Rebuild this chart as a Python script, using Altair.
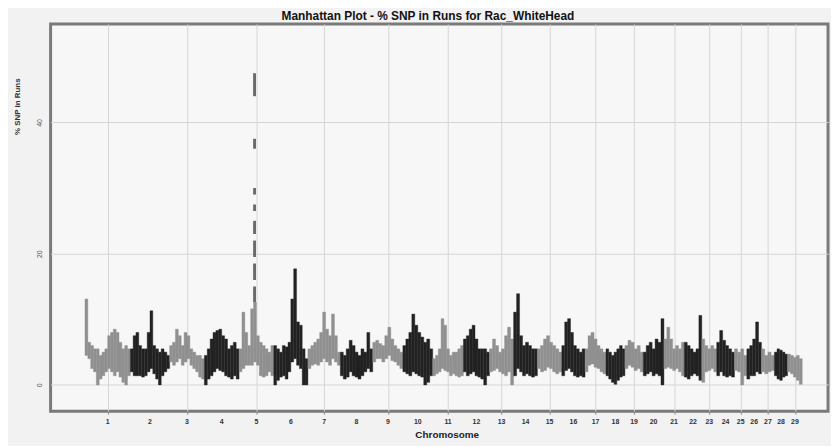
import altair as alt
import pandas as pd

# Bovine chromosome lengths (Mb) - x axis is cumulative genomic position
chrom_len = [158, 137, 121, 121, 121, 119, 113, 113, 105, 104, 107, 91, 84, 83, 85,
             81, 73, 66, 64, 72, 71, 61, 52, 62, 43, 51, 45, 46, 51]

# Upper / lower envelope of % SNP in runs along each chromosome
hi = {
    1: [13.1, 6.5, 6.0, 5.5, 5.5, 4.5, 5.0, 5.5, 7.5, 8.0, 8.5, 8.0, 6.5, 5.5, 6.0, 5.5],
    2: [5.5, 7.5, 8.0, 6.0, 5.5, 5.5, 8.0, 11.3, 6.0, 5.5, 5.0, 5.5, 5.0, 4.5],
    3: [6.0, 6.5, 8.5, 7.5, 6.0, 8.0, 7.5, 5.5, 5.0, 4.5, 4.5, 4.0],
    4: [4.5, 5.5, 7.0, 8.0, 8.3, 8.5, 7.5, 7.0, 5.5, 6.0, 6.5, 5.5],
    5: [5.5, 11.1, 8.0, 6.0, 11.6, 12.6, 7.5, 6.5, 6.0, 5.5, 5.0, 6.0],
    6: [6.0, 5.5, 5.0, 6.0, 5.8, 6.5, 13.1, 17.7, 9.6, 9.1, 5.5, 4.0],
    7: [5.5, 6.0, 6.5, 7.0, 8.0, 11.1, 8.5, 7.5, 10.8, 7.5, 5.0],
    8: [5.0, 4.5, 5.5, 6.8, 6.0, 5.0, 4.5, 5.5, 5.0, 8.0, 5.5],
    9: [6.5, 6.8, 6.3, 6.0, 7.5, 8.8, 7.0, 6.0, 5.5, 5.0],
    10: [6.0, 7.0, 8.0, 10.8, 9.1, 8.0, 7.3, 6.5, 7.0, 5.5],
    11: [4.0, 4.5, 5.5, 10.1, 9.1, 5.5, 4.5, 5.0, 5.0, 5.5, 6.0],
    12: [7.0, 7.5, 8.5, 9.1, 7.0, 5.5, 5.5, 5.5, 5.0],
    13: [5.5, 7.0, 6.0, 5.0, 5.5, 7.5, 8.8, 7.0],
    14: [11.1, 13.9, 7.5, 6.0, 6.5, 6.0, 5.5, 5.5],
    15: [5.5, 6.0, 7.0, 7.5, 6.5, 6.0, 5.5, 5.0],
    16: [6.0, 9.6, 10.1, 8.0, 6.0, 5.5, 5.0, 5.5],
    17: [5.5, 7.5, 8.0, 7.0, 6.0, 5.5, 5.0],
    18: [5.5, 5.0, 4.5, 5.0, 5.5, 6.0, 5.5],
    19: [6.0, 6.8, 6.5, 5.5, 6.0, 5.0],
    20: [5.0, 6.0, 6.5, 5.5, 7.0, 6.5, 10.1],
    21: [7.0, 8.8, 7.0, 5.5, 6.0, 5.5, 6.5],
    22: [6.5, 6.0, 5.5, 5.0, 5.5, 10.6],
    23: [7.0, 6.0, 5.5, 6.0, 5.5],
    24: [6.5, 8.3, 6.8, 6.0, 5.5, 5.0],
    25: [5.5, 5.0, 5.5, 4.5],
    26: [5.5, 6.0, 7.0, 9.6, 6.5],
    27: [5.5, 4.5, 5.0, 4.5],
    28: [5.0, 5.5, 5.3, 5.0, 4.7],
    29: [4.7, 4.5, 4.2, 4.5, 4.0],
}
lo = {
    1: [4.5, 4.0, 2.5, 2.0, 0.0, 0.9, 1.4, 2.0, 2.5, 2.0, 1.4, 2.0, 1.2, 0.4, 0.0, 1.4],
    2: [2.0, 1.4, 1.4, 1.4, 1.2, 1.4, 2.0, 2.5, 1.7, 0.9, 0.0, 1.4, 2.0, 2.5],
    3: [3.5, 3.0, 3.5, 4.0, 3.0, 3.5, 4.0, 3.0, 2.5, 2.0, 1.2, 0.9],
    4: [0.0, 0.9, 1.4, 2.0, 2.5, 2.2, 2.0, 1.4, 1.2, 0.9, 1.4, 0.9],
    5: [2.0, 2.5, 3.0, 3.0, 3.0, 3.5, 3.0, 1.4, 1.2, 1.4, 2.0, 1.4],
    6: [0.0, 0.7, 1.2, 1.4, 0.9, 2.0, 3.5, 4.0, 3.0, 2.5, 0.0, 0.0],
    7: [2.5, 3.0, 3.2, 3.0, 3.5, 4.0, 3.5, 3.0, 4.0, 3.5, 3.0],
    8: [1.4, 0.9, 1.2, 2.0, 1.4, 1.2, 0.9, 1.4, 2.0, 2.5, 2.0],
    9: [3.5, 4.0, 4.0, 3.5, 4.0, 4.5, 3.7, 3.5, 3.0, 2.5],
    10: [2.0, 1.7, 1.4, 2.0, 1.7, 1.4, 1.2, 0.0, 0.4, 1.4],
    11: [1.4, 1.7, 2.0, 2.5, 2.2, 2.0, 1.4, 1.7, 1.4, 1.2, 1.4],
    12: [2.0, 1.4, 1.7, 2.0, 1.4, 1.2, 0.9, 0.0, 1.4],
    13: [2.0, 2.2, 2.5, 2.0, 1.7, 1.4, 2.0, 0.0],
    14: [1.4, 2.5, 2.0, 1.4, 1.7, 1.4, 1.2, 1.4],
    15: [2.5, 2.0, 2.2, 2.7, 2.5, 2.0, 1.7, 2.0],
    16: [1.4, 2.2, 2.5, 2.0, 1.4, 1.2, 1.4, 1.2],
    17: [2.0, 3.0, 3.2, 2.7, 2.5, 2.0, 1.7],
    18: [1.4, 0.9, 0.4, 0.1, 0.7, 1.2, 1.4],
    19: [2.5, 3.0, 2.7, 2.2, 2.5, 2.0],
    20: [1.4, 1.7, 2.0, 1.4, 1.7, 1.4, 0.0],
    21: [2.5, 2.7, 2.5, 2.2, 2.5, 2.0, 1.4],
    22: [1.2, 0.9, 1.4, 1.7, 1.4, 0.7],
    23: [0.4, 2.0, 2.2, 2.5, 2.0],
    24: [1.4, 2.0, 1.4, 1.2, 1.4, 1.2],
    25: [2.2, 2.0, 0.0, 1.4],
    26: [0.9, 1.4, 1.4, 2.0, 1.7],
    27: [2.0, 1.7, 2.0, 2.2],
    28: [1.4, 0.9, 0.7, 1.2, 1.4],
    29: [2.0, 1.7, 1.2, 0.7, 0.1],
}

# Isolated high signal on chromosome 5 (dashed column of SNPs)
spike_chrom = 5
spike_pos = 54  # Mb within chromosome
spike_lo = [12.6, 16.0, 19.5, 23.0, 26.5, 29.0, 36.0, 44.0]
spike_hi = [15.0, 18.5, 22.0, 25.0, 27.5, 30.0, 37.5, 47.5]

chrom_labels = [str(i) for i in range(1, 30)]
y_ticks = [0, 20, 40]
title_text = "Manhattan Plot - % SNP in Runs for Rac_WhiteHead"

# ---- build tables -------------------------------------------------------
starts = []
c = 0
for L in chrom_len:
    starts.append(c)
    c += L

rows = []
for k, L in enumerate(chrom_len, start=1):
    h = hi[k]
    l = lo[k]
    n = len(h)
    for i in range(n):
        rows.append({
            "chrom": k,
            "start": starts[k - 1] + L * i / n,
            "end": starts[k - 1] + L * (i + 1) / n,
            "lo": l[i],
            "hi": h[i],
            "shade": "light" if k % 2 == 1 else "dark",
        })
df = pd.DataFrame(rows)

sp_x = starts[spike_chrom - 1] + spike_pos
spike_df = pd.DataFrame({
    "start": [sp_x - 5] * len(spike_lo),
    "end": [sp_x + 5] * len(spike_lo),
    "lo": spike_lo,
    "hi": spike_hi,
})

mids = [starts[i] + chrom_len[i] / 2 for i in range(len(chrom_len))]
lab_df = pd.DataFrame({"mid": mids, "label": chrom_labels})
title_df = pd.DataFrame({"t": [title_text]})

FONT = "Liberation Sans"
xscale = alt.Scale(domain=[-120, 2590], nice=False, zero=False)
yscale = alt.Scale(domain=[-4, 55], nice=False, zero=False)

xaxis = alt.Axis(
    values=mids,
    labels=False,
    grid=True, gridColor="#d6d6d6", gridWidth=1,
    ticks=True, tickSize=3, tickColor="#8a8a8a",
    domain=False,
    title="Chromosome", titleFont=FONT, titleFontSize=10, titleFontWeight="bold",
    titleColor="#222", titleX=400, titleY=24, titleAlign="center", titleBaseline="middle",
)
yaxis = alt.Axis(
    values=y_ticks,
    grid=True, gridColor="#d6d6d6", gridWidth=1,
    ticks=False, domain=False,
    labelFont=FONT, labelFontSize=7, labelColor="#555", labelAngle=270,
    labelAlign="center", labelBaseline="bottom", labelPadding=8,
    title="% SNP in Runs", titleFont=FONT, titleFontSize=8, titleFontWeight="bold",
    titleColor="#333", titleAngle=270, titleX=-33, titleY=83,
    titleAlign="center", titleBaseline="middle",
)

shade_scale = alt.Scale(domain=["light", "dark"], range=["#909090", "#222222"])

bars = alt.Chart(df).mark_bar(strokeWidth=0.4).encode(
    x=alt.X("start:Q", scale=xscale, axis=xaxis),
    x2="end:Q",
    y=alt.Y("lo:Q", scale=yscale, axis=yaxis),
    y2="hi:Q",
    color=alt.Color("shade:N", scale=shade_scale, legend=None),
    stroke=alt.Stroke("shade:N", scale=shade_scale, legend=None),
)

spike = alt.Chart(spike_df).mark_bar(color="#6a6a6a").encode(
    x=alt.X("start:Q", scale=xscale),
    x2="end:Q",
    y=alt.Y("lo:Q", scale=yscale),
    y2="hi:Q",
)

xlabels = alt.Chart(lab_df).mark_text(
    font=FONT, fontSize=7, fontWeight="bold", color="#333", baseline="middle", align="center"
).encode(
    x=alt.X("mid:Q", scale=xscale),
    y=alt.value(402),
    text="label:N",
)

# chart title, placed just above the frame
title_mark = alt.Chart(title_df).mark_text(
    font=FONT, fontSize=12, fontWeight="bold", color="#111", baseline="middle", align="center"
).encode(
    x=alt.value(381),
    y=alt.value(-8),
    text="t:N",
)

chart = alt.layer(bars, spike, xlabels, title_mark).properties(
    width=785, height=391,
    padding={"left": 43, "top": 14, "right": 3, "bottom": 33},
    autosize=alt.AutoSizeParams(type="none"),
    background="#f2f2f2",
).configure_view(stroke="#7a7a7a", strokeWidth=3, fill="#f7f7f7")

chart.save("out.html", embed_options={"renderer": "svg", "actions": False})
